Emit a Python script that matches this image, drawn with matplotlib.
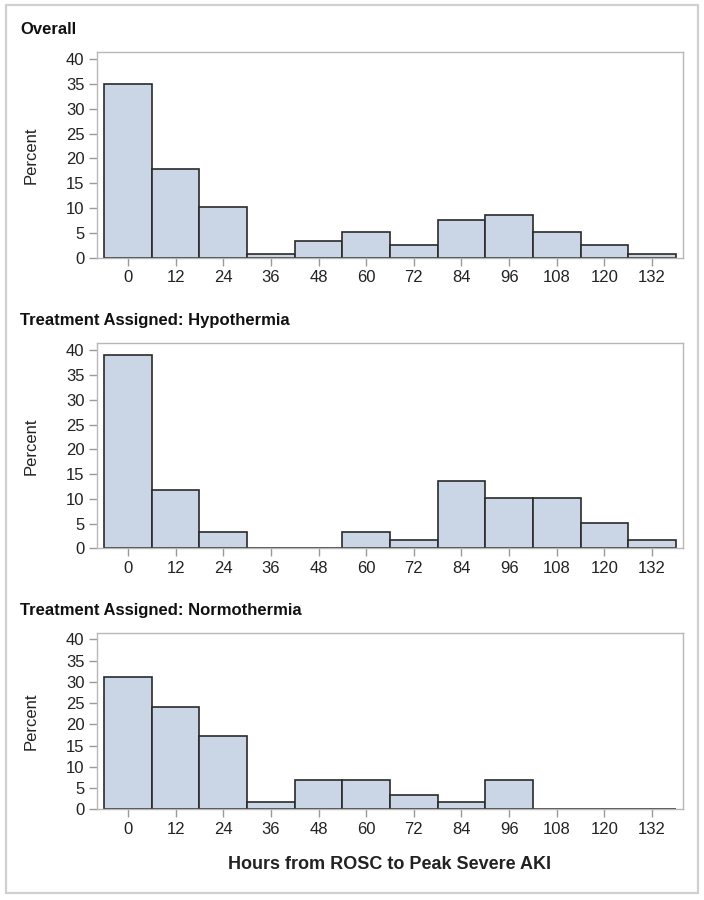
import matplotlib
matplotlib.use("Agg")
import matplotlib.pyplot as plt
from matplotlib.patches import Rectangle

# Data (percent per 12-hour bin, bins centred on the tick values)
bin_centers = [0, 12, 24, 36, 48, 60, 72, 84, 96, 108, 120, 132]
overall_pct = [35.04, 17.95, 10.26, 0.85, 3.42, 5.13, 2.56, 7.69, 8.55, 5.13, 2.56, 0.85]
hypo_pct = [38.98, 11.86, 3.39, 0.0, 0.0, 3.39, 1.69, 13.56, 10.17, 10.17, 5.08, 1.69]
normo_pct = [31.03, 24.14, 17.24, 1.72, 6.90, 6.90, 3.45, 1.72, 6.90, 0.0, 0.0, 0.0]
panel_titles = ["Overall", "Treatment Assigned: Hypothermia", "Treatment Assigned: Normothermia"]
y_ticks = [0, 5, 10, 15, 20, 25, 30, 35, 40]
x_label = "Hours from ROSC to Peak Severe AKI"
y_label = "Percent"

NARROW = ["Liberation Sans Narrow", "Liberation Sans", "DejaVu Sans"]
FILL = "#cad5e5"
EDGE = "#2a2a2a"
FRAME = "#b8b8b8"
TICK = "#9a9a9a"
TXT = "#222222"

W, H = 704, 900
fig = plt.figure(figsize=(W / 100, H / 100), dpi=100)
fig.patch.set_facecolor("white")

# outer border
fig.add_artist(Rectangle((6 / W, 1 - 893 / H), 692 / W, 888 / H, transform=fig.transFigure,
                         fill=False, edgecolor="#d0d0d0", linewidth=1.6))

panels = [
    (overall_pct, 52, 258, 29),
    (hypo_pct, 343.3, 548.3, 320),
    (normo_pct, 633.3, 809.3, 611),
]
left_px, right_px = 97, 683

for i, (vals, top, bot, title_y) in enumerate(panels):
    ax = fig.add_axes([left_px / W, 1 - bot / H, (right_px - left_px) / W, (bot - top) / H])
    ax.bar(bin_centers, vals, width=12, color=FILL, edgecolor=EDGE, linewidth=1.2, align="center", zorder=2)
    ax.set_xlim(-7.8, 139.8)
    ax.set_ylim(0, 41.4)
    ax.set_xticks(bin_centers)
    ax.set_xticklabels([str(v) for v in bin_centers])
    ax.set_yticks(y_ticks)
    ax.set_yticklabels([str(v) for v in y_ticks])
    for s in ax.spines.values():
        s.set_color(FRAME)
        s.set_linewidth(1.0)
    ax.tick_params(axis="both", direction="out", length=6, width=1.0, color=TICK,
                   labelcolor=TXT, labelsize=12, pad=3)
    for lab in ax.get_xticklabels() + ax.get_yticklabels():
        lab.set_family(NARROW)
    ax.set_ylabel(y_label, fontsize=12, family=["Liberation Sans", "DejaVu Sans"], color=TXT)
    ax.yaxis.set_label_coords(-0.1, 0.5)
    fig.text(20 / W, 1 - title_y / H, panel_titles[i], fontsize=12, fontweight="bold",
             family=NARROW, color="#111111", ha="left", va="center")
    if i == 2:
        ax.set_xlabel(x_label, fontsize=13, fontweight="bold", family=["Liberation Sans", "DejaVu Sans"],
                      color=TXT, labelpad=14)

fig.savefig("out.png", dpi=100, facecolor="white")
